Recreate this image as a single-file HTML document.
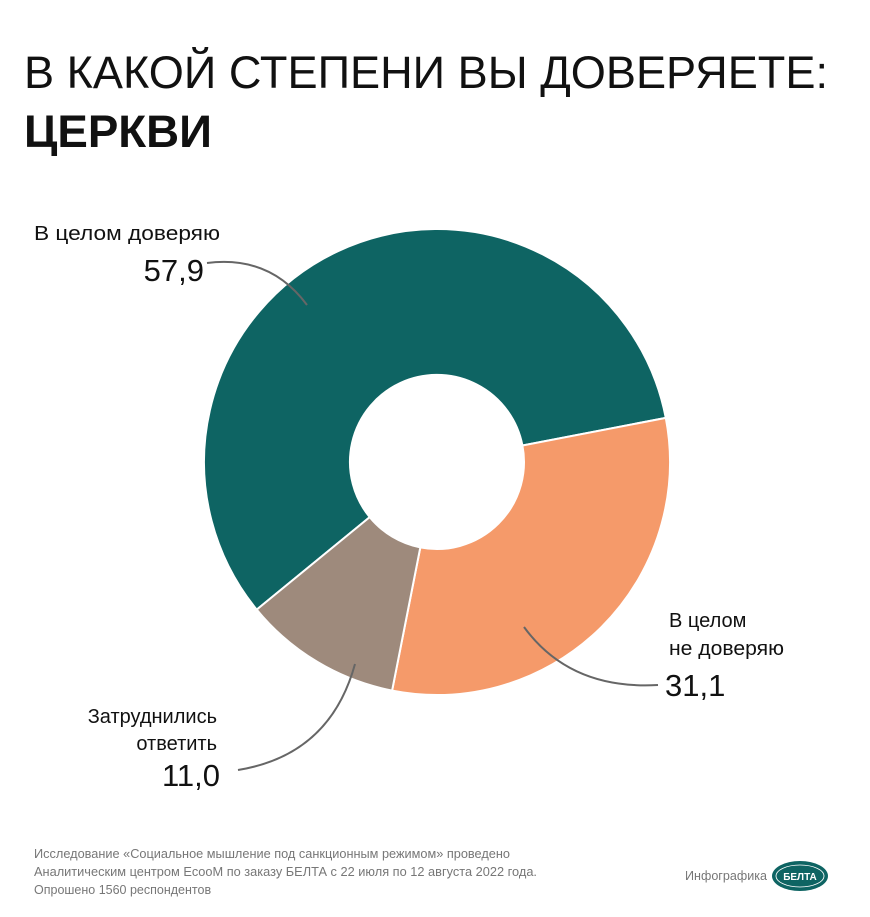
<!DOCTYPE html>
<html><head><meta charset="utf-8"><style>
body{margin:0;background:#fff;}
svg{display:block;font-family:"Liberation Sans",sans-serif;}
</style></head><body>
<svg width="870" height="917" viewBox="0 0 870 917">
<rect width="870" height="917" fill="#fff"/>
<text x="24" y="88" font-size="45" fill="#111" textLength="804" lengthAdjust="spacingAndGlyphs">В КАКОЙ СТЕПЕНИ ВЫ ДОВЕРЯЕТЕ:</text>
<text x="24" y="147" font-size="45" font-weight="bold" fill="#111" textLength="188" lengthAdjust="spacingAndGlyphs">ЦЕРКВИ</text>
<g stroke="#fff" stroke-width="2">
<path d="M256.7,609.6 A233,233 0 1 1 665.8,417.9 L522.4,445.5 A87,87 0 1 0 369.7,517.1 Z" fill="#0e6463"/>
<path d="M665.8,417.9 A233,233 0 0 1 392.1,690.6 L420.3,547.4 A87,87 0 0 0 522.4,445.5 Z" fill="#f59a6a"/>
<path d="M392.1,690.6 A233,233 0 0 1 256.7,609.6 L369.7,517.1 A87,87 0 0 0 420.3,547.4 Z" fill="#9e8a7c"/>
</g>
<g fill="none" stroke="#666" stroke-width="2">
<path d="M207,263 Q270,255 307,305"/>
<path d="M524,627 Q570,690 658,685"/>
<path d="M355,664 Q330,755 238,770"/>
</g>
<g fill="#111">
<text x="34" y="240" font-size="20" textLength="186" lengthAdjust="spacingAndGlyphs">В целом доверяю</text>
<text x="204" y="281" font-size="31" text-anchor="end">57,9</text>
<text x="669" y="627" font-size="20">В целом</text>
<text x="669" y="655" font-size="20" textLength="115" lengthAdjust="spacingAndGlyphs">не доверяю</text>
<text x="665" y="696" font-size="31">31,1</text>
<text x="217" y="723" font-size="20" text-anchor="end">Затруднились</text>
<text x="217" y="750" font-size="20" text-anchor="end">ответить</text>
<text x="220" y="786" font-size="31" text-anchor="end">11,0</text>
</g>
<g fill="#777" font-size="12.5">
<text x="34" y="858" textLength="476" lengthAdjust="spacingAndGlyphs">Исследование «Социальное мышление под санкционным режимом» проведено</text>
<text x="34" y="876" textLength="503" lengthAdjust="spacingAndGlyphs">Аналитическим центром EcooM по заказу БЕЛТА с 22 июля по 12 августа 2022 года.</text>
<text x="34" y="894">Опрошено 1560 респондентов</text>
<text x="685" y="880" font-size="13" textLength="82" lengthAdjust="spacingAndGlyphs">Инфографика</text>
</g>
<ellipse cx="800" cy="876" rx="28" ry="15" fill="#0e6463"/>
<ellipse cx="800" cy="876" rx="24" ry="11" fill="none" stroke="#fff" stroke-width="0.8"/>
<text x="800" y="880" font-size="10" font-weight="bold" fill="#fff" text-anchor="middle">БЕЛТА</text>
</svg>
</body></html>
